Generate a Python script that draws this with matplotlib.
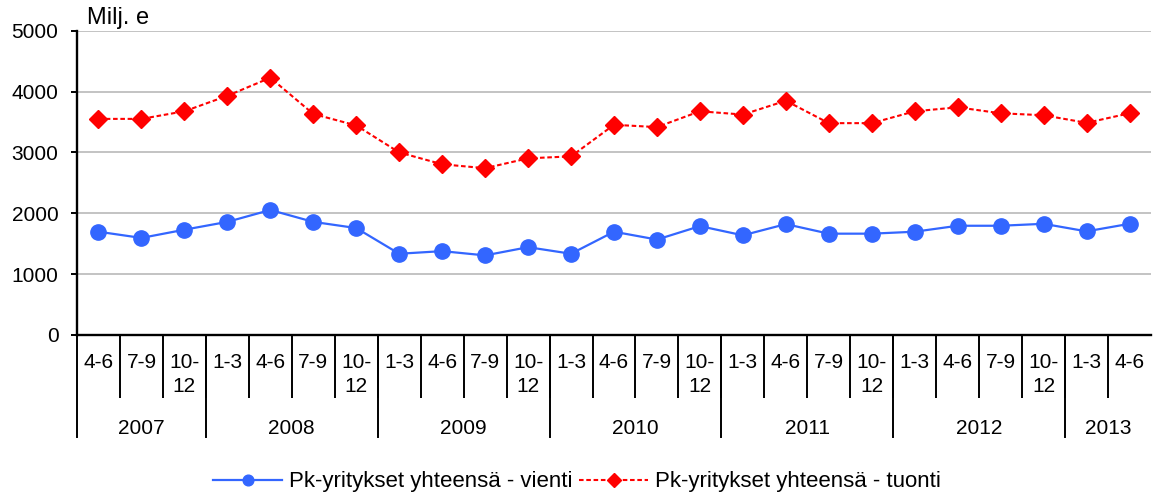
import matplotlib.pyplot as plt

# Neljännekset ja vuodet
quarters = ['4-6', '7-9', '10-\n12',
            '1-3', '4-6', '7-9', '10-\n12',
            '1-3', '4-6', '7-9', '10-\n12',
            '1-3', '4-6', '7-9', '10-\n12',
            '1-3', '4-6', '7-9', '10-\n12',
            '1-3', '4-6', '7-9', '10-\n12',
            '1-3', '4-6']
years = ['2007', '2008', '2009', '2010', '2011', '2012', '2013']
quarters_per_year = [3, 4, 4, 4, 4, 4, 2]

# Arvot (milj. e)
vienti = [1697, 1595, 1730, 1859, 2054, 1859, 1757,
          1335, 1378, 1308, 1443, 1335, 1697, 1568, 1789, 1638,
          1822, 1665, 1665, 1697, 1795, 1795, 1827, 1703, 1827]
tuonti = [3551, 3551, 3676, 3930, 4227, 3632, 3443,
          3000, 2805, 2741, 2903, 2935, 3454, 3416, 3676, 3622,
          3849, 3481, 3481, 3676, 3741, 3643, 3611, 3486, 3643]

plt.rcParams['font.family'] = ['Liberation Sans', 'DejaVu Sans']
plt.rcParams['font.size'] = 15

W, H = 1154, 495
fig = plt.figure(figsize=(W / 100, H / 100), dpi=100)
x0, x1, ytop, ybot = 77, 1151, 30.7, 335
ax = fig.add_axes([x0 / W, 1 - ybot / H, (x1 - x0) / W, (ybot - ytop) / H])

x = list(range(len(quarters)))
ax.plot(x, vienti, color='#3366FF', lw=1.6, marker='o', ms=11,
        label='Pk-yritykset yhteensä - vienti', zorder=3)
ax.plot(x, tuonti, color='#FF0000', lw=1.5, ls=(0, (2.2, 1.3)), marker='D', ms=9.5,
        label='Pk-yritykset yhteensä - tuonti', zorder=3)

ax.set_xlim(-0.5, len(quarters) - 0.5)
ax.set_ylim(0, 5000)
ax.set_yticks([0, 1000, 2000, 3000, 4000, 5000])
ax.yaxis.grid(True, color='#BEBEBE', lw=1.3)
ax.set_axisbelow(True)
ax.tick_params(axis='y', length=4.3, width=1.4, pad=9)
for s in ['top', 'right']:
    ax.spines[s].set_visible(False)
for s in ['left', 'bottom']:
    ax.spines[s].set_linewidth(1.7)

# monitasoinen x-akseli
ax.set_xticks([i - 0.5 for i in range(1, len(quarters))])
ax.set_xticklabels([])
ax.tick_params(axis='x', length=45, width=1.4, direction='out')

axh = ybot - ytop
def frac(ypx):
    return (ybot - ypx) / axh

tr = ax.get_xaxis_transform()
for i, q in enumerate(quarters):
    for j, line in enumerate(q.split('\n')):
        ax.text(i, frac(363 + 24 * j), line, transform=tr, ha='center', va='center')

start = 0
for y, n in zip(years, quarters_per_year):
    ax.plot([start - 0.5, start - 0.5], [0, frac(437)], color='black', lw=1.4,
            transform=tr, clip_on=False)
    ax.text(start + (n - 1) / 2, frac(428), y, transform=tr, ha='center', va='center')
    start += n

fig.text(87 / W, 1 - 18 / H, 'Milj. e', ha='left', va='center', fontsize=17)

fig.legend(loc='center', bbox_to_anchor=(0.5, 1 - 482 / H), ncol=2, frameon=False,
           fontsize=16, handlelength=3.1, handletextpad=0.3, columnspacing=0.3,
           markerscale=0.7)

fig.savefig('out.png', dpi=100)
